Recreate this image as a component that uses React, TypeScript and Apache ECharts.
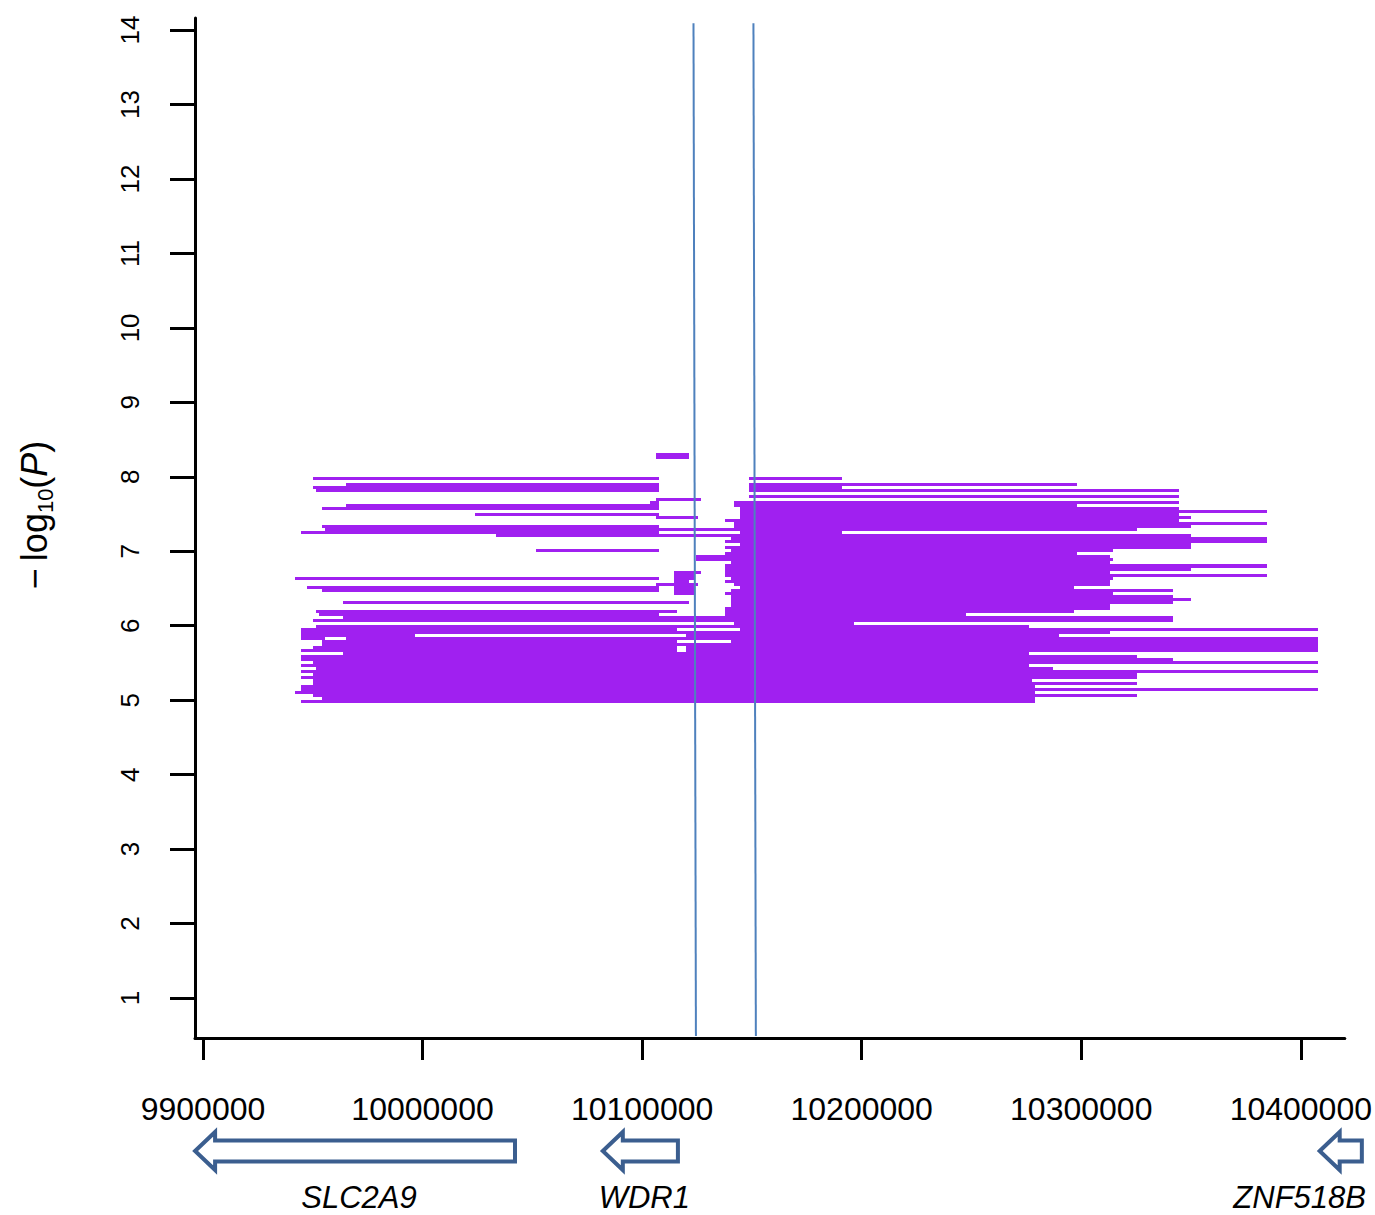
import React, { useEffect, useRef } from "react";
import * as echarts from "echarts";

// ---------- data ----------
const xTickValues = [9900000, 10000000, 10100000, 10200000, 10300000, 10400000];
const yTickValues = [1, 2, 3, 4, 5, 6, 7, 8, 9, 10, 11, 12, 13, 14];

// [start (bp), end (bp), -log10(P)]
const segments: [number, number, number][] = [
  [10106300, 10121300, 8.3],
  [10106300, 10121300, 8.259],
  [9950100, 10107600, 7.977],
  [10148600, 10191000, 7.977],
  [9965100, 10107600, 7.897],
  [10148600, 10298000, 7.897],
  [9950100, 10107600, 7.857],
  [10148600, 10191000, 7.857],
  [9951500, 10107600, 7.816],
  [10148600, 10344400, 7.816],
  [10148600, 10344400, 7.736],
  [10106300, 10126800, 7.695],
  [10103600, 10107600, 7.655],
  [10141800, 10344400, 7.655],
  [9965100, 10107600, 7.615],
  [10141800, 10298000, 7.615],
  [9954200, 10107600, 7.575],
  [10144500, 10344400, 7.575],
  [10144500, 10384500, 7.534],
  [10023900, 10107600, 7.494],
  [10144500, 10344400, 7.494],
  [10106300, 10125400, 7.454],
  [10144500, 10349900, 7.454],
  [10137700, 10344400, 7.413],
  [10141800, 10384500, 7.373],
  [9954200, 10107600, 7.333],
  [10141800, 10349900, 7.333],
  [9955600, 10325300, 7.292],
  [9944600, 10107600, 7.252],
  [10144500, 10191000, 7.252],
  [10033400, 10349900, 7.212],
  [10140400, 10384500, 7.172],
  [10137700, 10384500, 7.131],
  [10144500, 10349900, 7.091],
  [10137700, 10349900, 7.051],
  [10051600, 10107600, 7.01],
  [10140400, 10314400, 7.01],
  [10137700, 10298000, 6.97],
  [10124500, 10313000, 6.93],
  [10124500, 10314400, 6.89],
  [10140400, 10313000, 6.846],
  [10137700, 10384500, 6.803],
  [10137700, 10349900, 6.76],
  [10114500, 10126800, 6.715],
  [10137700, 10313000, 6.715],
  [10114500, 10123600, 6.675],
  [10137700, 10384500, 6.675],
  [9941900, 10107600, 6.634],
  [10114500, 10123600, 6.634],
  [10140400, 10314400, 6.634],
  [10114500, 10121300, 6.594],
  [10137700, 10313000, 6.594],
  [10106300, 10125400, 6.554],
  [10141800, 10313000, 6.554],
  [9947400, 10107600, 6.514],
  [10114500, 10123600, 6.514],
  [10144500, 10296600, 6.514],
  [9954200, 10107600, 6.473],
  [10114500, 10123600, 6.473],
  [10140400, 10341700, 6.473],
  [10114500, 10123600, 6.433],
  [10137700, 10314400, 6.433],
  [10140400, 10341700, 6.393],
  [10140400, 10349900, 6.352],
  [9963800, 10121300, 6.312],
  [10140400, 10341700, 6.312],
  [10140400, 10313000, 6.272],
  [10137700, 10313000, 6.232],
  [9951500, 10115800, 6.191],
  [10137700, 10296600, 6.191],
  [9952800, 10107600, 6.151],
  [10137700, 10247400, 6.151],
  [9963800, 10341700, 6.111],
  [9950100, 10341700, 6.07],
  [10141800, 10196400, 6.03],
  [9951500, 10276100, 5.99],
  [9944600, 10115800, 5.95],
  [10144500, 10407700, 5.95],
  [9944600, 10313000, 5.909],
  [9944600, 9996500, 5.869],
  [10119900, 10289800, 5.869],
  [9944600, 9955600, 5.829],
  [9965100, 10407700, 5.829],
  [9954200, 10115800, 5.788],
  [10140400, 10407700, 5.788],
  [9954200, 10407700, 5.748],
  [9950100, 10115800, 5.708],
  [10119900, 10407700, 5.708],
  [9944600, 10115800, 5.667],
  [10119900, 10407700, 5.667],
  [9963800, 10276100, 5.627],
  [9944600, 10325300, 5.587],
  [9944600, 10341700, 5.547],
  [9950100, 10407700, 5.506],
  [9944600, 10276100, 5.466],
  [9951500, 10287100, 5.426],
  [9944600, 10407700, 5.385],
  [9950100, 10325300, 5.345],
  [9944600, 10325300, 5.305],
  [9950100, 10277500, 5.265],
  [9950100, 10325300, 5.224],
  [9944600, 10278900, 5.184],
  [9944600, 10407700, 5.144],
  [9941900, 10278900, 5.103],
  [9950100, 10325300, 5.063],
  [9954200, 10278900, 5.023],
  [9944600, 10278900, 4.983],
];

// vertical boundary lines (x at top, x at bottom)
const boundaryTopX = [10123400, 10150700];
const boundaryBottomX = [10124500, 10151800];
const boundaryTopY = 14.09;
const boundaryBottomY = 0.49;

// genes (all on minus strand)
const geneNames = ["SLC2A9", "WDR1", "ZNF518B"];
const geneStart = [9896400, 10082100, 10408600];
const geneEnd = [10042100, 10116300, 10427800];

const X_MIN = 9896357;
const X_MAX = 10420032;
const Y_MIN = 0.463;
const Y_MAX = 14.162;

const FONT = "'Liberation Sans', Arial, sans-serif";

function measure(text: string, font: string): number {
  const c = document.createElement("canvas");
  const ctx = c.getContext("2d");
  if (!ctx) return text.length * 16;
  ctx.font = font;
  return ctx.measureText(text).width;
}

export default function App() {
  const ref = useRef<HTMLDivElement>(null);

  useEffect(() => {
    if (!ref.current) return;
    const chart = echarts.init(ref.current, null, { renderer: "svg" });

    const option: any = {
      animation: false,
      backgroundColor: "#ffffff",
      grid: { left: 195, top: 18, right: 30, bottom: 177, containLabel: false },
      xAxis: {
        type: "value",
        min: X_MIN,
        max: X_MAX,
        axisLine: { onZero: false, lineStyle: { color: "#000", width: 3 } },
        axisTick: {
          show: true,
          length: 22,
          customValues: xTickValues,
          lineStyle: { color: "#000", width: 3 },
        },
        axisLabel: {
          customValues: xTickValues,
          margin: 55,
          fontSize: 32,
          fontFamily: FONT,
          color: "#000",
          formatter: (v: number) => String(v),
        },
        splitLine: { show: false },
      },
      yAxis: {
        type: "value",
        min: Y_MIN,
        max: Y_MAX,
        axisLine: { onZero: false, lineStyle: { color: "#000", width: 3 } },
        axisTick: {
          show: true,
          length: 25,
          customValues: yTickValues,
          lineStyle: { color: "#000", width: 3 },
        },
        axisLabel: {
          customValues: yTickValues,
          rotate: 90,
          margin: 52,
          fontSize: 26,
          fontFamily: FONT,
          color: "#000",
          formatter: (v: number) => String(v),
        },
        splitLine: { show: false },
      },
      series: [
        {
          type: "custom",
          coordinateSystem: "cartesian2d",
          silent: true,
          encode: { x: [0, 1], y: 2 },
          data: segments,
          renderItem: (_p: any, api: any) => {
            const a = api.coord([api.value(0), api.value(2)]);
            const b = api.coord([api.value(1), api.value(2)]);
            const y0 = Math.round(a[1] - 1.75);
            const y1 = Math.round(a[1] + 1.75);
            const x0 = Math.round(a[0]);
            const x1 = Math.round(b[0]);
            return {
              type: "rect",
              shape: { x: x0, y: y0, width: x1 - x0, height: y1 - y0 },
              style: { fill: "#A020F0" },
            };
          },
        },
        {
          type: "custom",
          coordinateSystem: "cartesian2d",
          silent: true,
          z: 5,
          encode: { x: [0, 1], y: [2, 3] },
          data: boundaryTopX.map((x, i) => [x, boundaryBottomX[i], boundaryTopY, boundaryBottomY]),
          renderItem: (_p: any, api: any) => {
            const a = api.coord([api.value(0), api.value(2)]);
            const b = api.coord([api.value(1), api.value(3)]);
            return {
              type: "line",
              shape: { x1: a[0], y1: a[1], x2: b[0], y2: b[1] },
              style: { stroke: "#4F81BD", lineWidth: 2 },
            };
          },
        },
      ],
    };
    chart.setOption(option);

    // gene arrows and labels, positioned along the x axis scale
    const cy = 1151;
    const headHalf = 19;
    const bodyHalf = 10.5;
    const headLen = 20;
    const labelFont = `italic 31px ${FONT}`;
    const graphics: any[] = [];
    geneNames.forEach((name, i) => {
      const x1 = chart.convertToPixel({ xAxisIndex: 0 }, geneStart[i]) as number;
      const x2 = chart.convertToPixel({ xAxisIndex: 0 }, geneEnd[i]) as number;
      const hb = x1 + headLen;
      graphics.push({
        type: "polygon",
        shape: {
          points: [
            [x1, cy],
            [hb, cy - headHalf],
            [hb, cy - bodyHalf],
            [x2, cy - bodyHalf],
            [x2, cy + bodyHalf],
            [hb, cy + bodyHalf],
            [hb, cy + headHalf],
          ],
        },
        style: { fill: "#ffffff", stroke: "#3B5E8F", lineWidth: 4, lineJoin: "miter" },
      });
      const w = measure(name, labelFont);
      let cx = (x1 + x2) / 2 + 4;
      if (cx + w / 2 > 1366) cx = 1366 - w / 2;
      graphics.push({
        type: "text",
        x: cx,
        y: 1197,
        style: {
          text: name,
          fontSize: 31,
          fontStyle: "italic",
          fontFamily: FONT,
          fill: "#000",
          align: "center",
          verticalAlign: "middle",
        },
      });
    });

    // y axis title: -log10(P)
    graphics.push({
      type: "text",
      x: 34,
      y: 515,
      rotation: Math.PI / 2,
      style: {
        text: "{a|\u2212\u2009log}{s|10}{a|(}{i|P}{a|)}",
        align: "center",
        verticalAlign: "middle",
        rich: {
          a: { fontSize: 36, fontFamily: FONT, fill: "#000", lineHeight: 44, verticalAlign: "middle" },
          s: { fontSize: 22, fontFamily: FONT, fill: "#000", lineHeight: 20, verticalAlign: "bottom" },
          i: { fontSize: 36, fontFamily: FONT, fontStyle: "italic", fill: "#000", lineHeight: 44, verticalAlign: "middle" },
        },
      },
    });

    chart.setOption({ graphic: graphics });

    return () => chart.dispose();
  }, []);

  return (
    <div
      ref={ref}
      style={{ position: "fixed", left: 0, top: 0, width: 1375, height: 1215, background: "#fff" }}
    />
  );
}
